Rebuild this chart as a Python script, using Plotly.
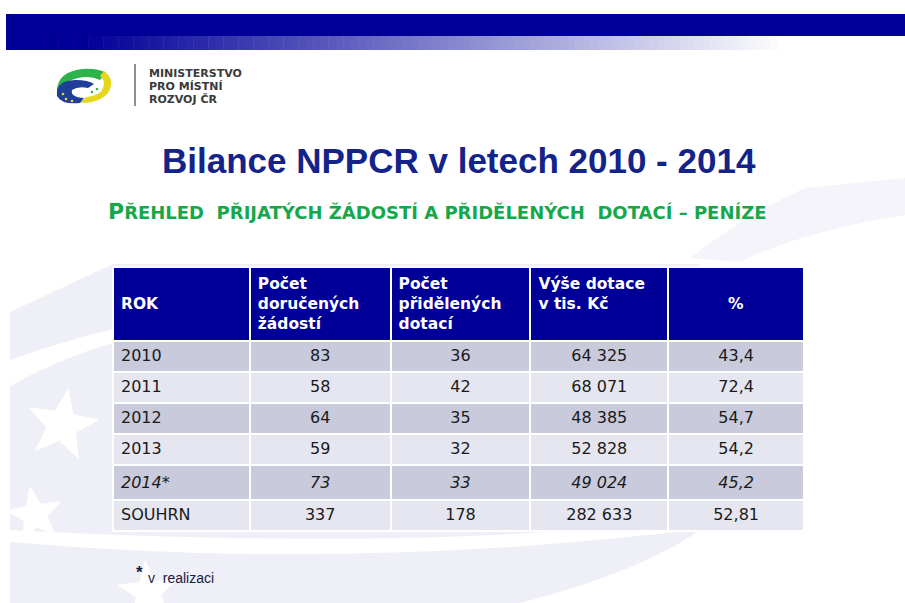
import math
import plotly.graph_objects as go

# ---- data ----
header_labels = [" <br>ROK", "Počet<br>doručených<br>žádostí", "Počet<br>přidělených<br>dotací",
                 "Výše dotace<br>v tis. Kč", " <br>%"]
roky = ["2010", "2011", "2012", "2013", "2014*", "SOUHRN"]
dorucene = [83, 58, 64, 59, 73, 337]
pridelene = [36, 42, 35, 32, 33, 178]
dotace = [64325, 68071, 48385, 52828, 49024, 282633]
procenta = ["43,4", "72,4", "54,7", "54,2", "45,2", "52,81"]
italic_rows = [4]

W, H = 905, 603


def fmt_thousands(v):
    return f"{v:,}".replace(",", " ")


def style_row(vals):
    return [f"<i>{v}</i>" if i in italic_rows else str(v) for i, v in enumerate(vals)]


col_rok = style_row(roky)
col_dor = style_row(dorucene)
col_pri = style_row(pridelene)
col_dot = style_row([fmt_thousands(v) for v in dotace])
col_pct = style_row(procenta)

dark, light = "#C9CADC", "#E5E6EF"
row_fill = [dark if i % 2 == 0 else light for i in range(len(roky))]

fig = go.Figure()

# invisible cartesian subplot so decorations can be placed in pixel units
fig.add_trace(go.Scatter(x=[], y=[], showlegend=False, hoverinfo="skip"))

tx0, tx1, ty0 = 113, 804, 267
fig.add_trace(go.Table(
    domain=dict(x=[tx0 / W, tx1 / W], y=[0, 1 - ty0 / H]),
    columnwidth=[137, 141, 140, 138, 136],
    header=dict(
        values=header_labels,
        fill_color="#000099",
        line=dict(color="white", width=2),
        align=["left", "left", "left", "left", "center"],
        font=dict(family="DejaVu Sans", size=15.5, color="white", weight="bold"),
        height=69,
    ),
    cells=dict(
        values=[col_rok, col_dor, col_pri, col_dot, col_pct],
        fill_color=[row_fill] * 5,
        line=dict(color="white", width=2),
        align=["left", "center", "center", "center", "center"],
        font=dict(family="DejaVu Sans", size=16, color="#1A1A1A"),
        height=31,
    ),
))

shapes = []
lav = "#EEEFF7"
# background swoosh (decoration)
shapes.append(dict(type="path", path="M 10 312 L 113 264 L 700 264 L 700 530 Q 640 572 520 603 L 10 603 Z",
                   fillcolor=lav, line=dict(width=0), layer="below"))
shapes.append(dict(type="path", path="M 10 360 Q 60 342 113 329 L 113 343 Q 60 358 10 386 Z",
                   fillcolor="white", line=dict(width=0), layer="below"))
shapes.append(dict(type="path", path="M 10 542 Q 350 572 700 529 L 590 529 Q 350 548 10 530 Z",
                   fillcolor="white", line=dict(width=0), layer="below"))
shapes.append(dict(type="path", path="M 690 258 Q 745 215 805 188 L 905 178 L 905 215 Q 800 232 740 262 Z",
                   fillcolor="#F4F4FA", line=dict(width=0), layer="below"))


def star(cx, cy, r, rot=-90):
    pts = []
    for k in range(10):
        rr = r if k % 2 == 0 else r * 0.42
        a = math.radians(rot + k * 36)
        pts.append(f"{cx + rr * math.cos(a):.1f} {cy + rr * math.sin(a):.1f}")
    return "M " + " L ".join(pts) + " Z"


for cx, cy, r, rot in [(62, 425, 38, -80), (35, 515, 30, -100), (148, 592, 32, -95)]:
    shapes.append(dict(type="path", path=star(cx, cy, r, rot), fillcolor="white",
                       line=dict(width=0), layer="below"))

# top bar
shapes.append(dict(type="rect", x0=6, x1=W, y0=14, y1=36, fillcolor="#000099", line=dict(width=0)))
steps = 120
for i in range(steps):
    xa = 6 + i * (W - 6) / steps
    xb = 6 + (i + 1) * (W - 6) / steps + 0.5
    t = min(max((xa - 80) / 700, 0), 1)
    r = int(255 * t)
    g = int(255 * t)
    b = int(153 + (255 - 153) * t)
    shapes.append(dict(type="rect", x0=xa, x1=xb, y0=36, y1=50,
                       fillcolor=f"rgb({r},{g},{b})", line=dict(width=0)))

# logo
shapes.append(dict(type="path",
                   path="M 57 90 Q 58 72 82 69 Q 98 68 106 73 L 100 80 Q 90 75 78 78 Q 64 81 57 90 Z",
                   fillcolor="#2DB34A", line=dict(width=0)))
shapes.append(dict(type="path",
                   path="M 104 71 Q 116 80 108 93 Q 100 103 80 103 L 86 97 Q 100 96 103 88 Q 106 80 100 76 Z",
                   fillcolor="#E6D61E", line=dict(width=0)))
shapes.append(dict(type="path",
                   path="M 57 90 Q 60 80 76 80 Q 88 80 94 84 L 88 88 Q 78 86 72 90 Q 70 97 84 98 L 80 103 Q 62 105 57 96 Z",
                   fillcolor="#1E3E9A", line=dict(width=0)))
for cx, cy in [(63, 94), (66, 99), (72, 101), (92, 92), (97, 89)]:
    shapes.append(dict(type="circle", x0=cx - 1.3, x1=cx + 1.3, y0=cy - 1.3, y1=cy + 1.3,
                       fillcolor="#E6D61E" if cx < 90 else "#2DB34A", line=dict(width=0)))
shapes.append(dict(type="line", x0=135, x1=135, y0=64, y1=106, line=dict(color="#444444", width=1.2)))

fig.update_layout(shapes=shapes)

ann = []
for i, line in enumerate(["MINISTERSTVO", "PRO MÍSTNÍ", "ROZVOJ ČR"]):
    ann.append(dict(x=147, y=73 + i * 13, text=line, xanchor="left", yanchor="middle", showarrow=False,
                    font=dict(family="DejaVu Sans", size=11, color="#3A3A3A", weight="bold")))
ann.append(dict(x=459, y=160, text="Bilance NPPCR v letech 2010 - 2014", xanchor="center", yanchor="middle",
                showarrow=False, font=dict(family="Liberation Sans", size=35, color="#13238A", weight="bold")))
ann.append(dict(x=437, y=211,
                text="<span style='font-size:22px'>P</span>ŘEHLED  PŘIJATÝCH ŽÁDOSTÍ A PŘIDĚLENÝCH  DOTACÍ – PENÍZE",
                xanchor="center", yanchor="middle", showarrow=False,
                font=dict(family="DejaVu Sans", size=18, color="#14A84A", weight="bold")))
ann.append(dict(x=134, y=572, text="*", xanchor="left", yanchor="middle", showarrow=False,
                font=dict(family="Liberation Sans", size=17, color="#1A1A40", weight="bold")))
ann.append(dict(x=146, y=578, text="v  realizaci", xanchor="left", yanchor="middle", showarrow=False,
                font=dict(family="Liberation Sans", size=14, color="#1A1A40")))
for a in ann:
    a["xref"] = "x"
    a["yref"] = "y"
fig.update_layout(annotations=ann)
for s in fig.layout.shapes:
    s.xref = "x"
    s.yref = "y"

fig.update_layout(
    width=W, height=H,
    margin=dict(l=0, r=0, t=0, b=0),
    paper_bgcolor="white", plot_bgcolor="rgba(0,0,0,0)",
    xaxis=dict(range=[0, W], visible=False, fixedrange=True),
    yaxis=dict(range=[H, 0], visible=False, fixedrange=True),
    showlegend=False,
)

fig.write_html("out.html", config={"displayModeBar": False},
               post_script="document.body.style.margin='0';")
